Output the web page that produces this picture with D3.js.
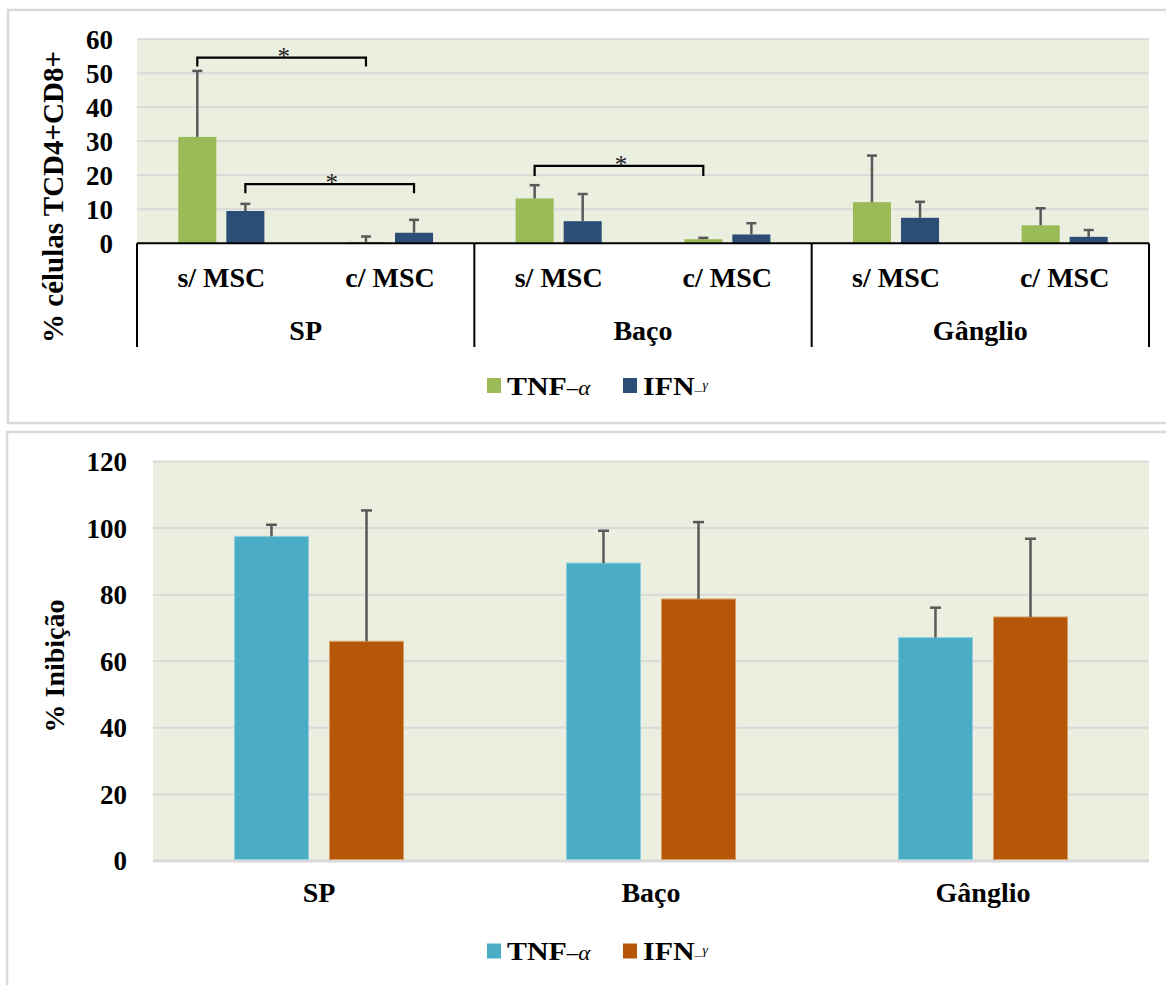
<!DOCTYPE html>
<html>
<head>
<meta charset="utf-8">
<script src="https://cdn.jsdelivr.net/npm/d3@7"></script>
<style>
  body { margin: 0; background: #fff; }
  svg { display: block; }
  text { font-family: "Liberation Serif", "Times New Roman", serif; }
</style>
</head>
<body>
<svg id="chart" width="1166" height="985"></svg>
<script>
// ---- data ----
const groups = ["SP", "Baço", "Gânglio"];
const conditions = ["s/ MSC", "c/ MSC"];
const seriesNames = ["TNF", "IFN"];

// top chart: % células TCD4+CD8+ (order: SP s/, SP c/, Baço s/, Baço c/, Gânglio s/, Gânglio c/)
const tnfCells = [31.3, 0.4, 13.2, 1.2, 12.1, 5.3];
const tnfCellsErr = [19.4, 1.6, 3.9, 0.4, 13.7, 5.0];
const ifnCells = [9.5, 3.1, 6.5, 2.6, 7.5, 1.9];
const ifnCellsErr = [2.1, 3.8, 8.0, 3.3, 4.7, 2.0];
const cellTicks = [0, 10, 20, 30, 40, 50, 60];

// significance brackets (from / to sub-category index, series, bracket level, leg end)
const brackets = [
  { from: 0, to: 1, series: "TNF", level: 54.6, leg: 52.0 },
  { from: 0, to: 1, series: "IFN", level: 17.4, leg: 14.7 },
  { from: 2, to: 3, series: "TNF", level: 22.8, leg: 19.8 }
];

// bottom chart: % Inibição
const tnfInib = [97.5, 89.5, 67.1];
const tnfInibErr = [3.5, 9.7, 9.0];
const ifnInib = [66.0, 78.7, 73.3];
const ifnInibErr = [39.3, 23.1, 23.5];
const inibTicks = [0, 20, 40, 60, 80, 100, 120];

const svg = d3.select("#chart");

// panel frames
svg.append("rect").attr("x", 8).attr("y", 10).attr("width", 1175).attr("height", 413)
  .attr("fill", "#fff").attr("stroke", "#d9d9d9").attr("stroke-width", 2.5);
svg.append("rect").attr("x", 7).attr("y", 432).attr("width", 1175).attr("height", 570)
  .attr("fill", "#fff").attr("stroke", "#d9d9d9").attr("stroke-width", 2.5);

const bgColor = "#ebefdf";
const gridColor = "#d9d9d9";
const errColor = "#595959";

// ================= TOP CHART =================
const topBox = { left: 137, right: 1149, top: 39.3, bottom: 243.3 };

const subKeys = [];
groups.forEach(g => conditions.forEach(c => subKeys.push(g + "|" + c)));

const xGroupTop = d3.scaleBand().domain(groups).range([topBox.left, topBox.right]);
const xSubTop = d3.scaleBand().domain(subKeys).range([topBox.left, topBox.right]);
const xSerTop = d3.scaleBand().domain(seriesNames).range([0, xSubTop.bandwidth()])
  .paddingInner(0.2083).paddingOuter(0.859);
const yTop = d3.scaleLinear().domain([0, 60]).range([topBox.bottom, topBox.top]);

const topColors = { TNF: "#9bbb59", IFN: "#2c4d75" };

const gTop = svg.append("g");
gTop.append("rect").attr("x", topBox.left).attr("y", topBox.top)
  .attr("width", topBox.right - topBox.left).attr("height", topBox.bottom - topBox.top)
  .attr("fill", bgColor);

gTop.selectAll("line.grid").data(cellTicks.filter(d => d > 0)).enter().append("line")
  .attr("x1", topBox.left).attr("x2", topBox.right)
  .attr("y1", d => yTop(d)).attr("y2", d => yTop(d))
  .attr("stroke", gridColor).attr("stroke-width", 2);

const topData = [];
subKeys.forEach((k, i) => {
  topData.push({ key: k, s: "TNF", v: tnfCells[i], e: tnfCellsErr[i] });
  topData.push({ key: k, s: "IFN", v: ifnCells[i], e: ifnCellsErr[i] });
});

const topBars = gTop.selectAll("g.bar").data(topData).enter().append("g");
topBars.append("rect")
  .attr("x", d => xSubTop(d.key) + xSerTop(d.s))
  .attr("y", d => yTop(d.v))
  .attr("width", xSerTop.bandwidth())
  .attr("height", d => yTop(0) - yTop(d.v))
  .attr("fill", d => topColors[d.s]);
const cx = d => xSubTop(d.key) + xSerTop(d.s) + xSerTop.bandwidth() / 2;
topBars.append("line")
  .attr("x1", cx).attr("x2", cx)
  .attr("y1", d => yTop(d.v)).attr("y2", d => yTop(d.v + d.e))
  .attr("stroke", errColor).attr("stroke-width", 2.5);
topBars.append("line")
  .attr("x1", d => cx(d) - 5).attr("x2", d => cx(d) + 5)
  .attr("y1", d => yTop(d.v + d.e)).attr("y2", d => yTop(d.v + d.e))
  .attr("stroke", errColor).attr("stroke-width", 2.5);

// y tick labels
gTop.selectAll("text.ytick").data(cellTicks).enter().append("text")
  .attr("x", 113).attr("y", d => yTop(d)).attr("dy", "0.35em")
  .attr("text-anchor", "end").attr("font-size", 27).attr("font-weight", "bold")
  .text(d => d);

// multi-level category axis
gTop.append("line").attr("x1", topBox.left).attr("x2", topBox.right)
  .attr("y1", topBox.bottom).attr("y2", topBox.bottom)
  .attr("stroke", "#000").attr("stroke-width", 2);
const sepX = groups.map(g => xGroupTop(g)).concat([xGroupTop(groups[groups.length - 1]) + xGroupTop.bandwidth()]);
gTop.selectAll("line.sep").data(sepX).enter().append("line")
  .attr("x1", d => d).attr("x2", d => d)
  .attr("y1", topBox.bottom).attr("y2", 347)
  .attr("stroke", "#000").attr("stroke-width", 2);
gTop.selectAll("text.sub").data(subKeys).enter().append("text")
  .attr("x", d => xSubTop(d) + xSubTop.bandwidth() / 2).attr("y", 287)
  .attr("text-anchor", "middle").attr("font-size", 28).attr("font-weight", "bold")
  .text(d => d.split("|")[1]);
gTop.selectAll("text.grp").data(groups).enter().append("text")
  .attr("x", d => xGroupTop(d) + xGroupTop.bandwidth() / 2).attr("y", 340)
  .attr("text-anchor", "middle").attr("font-size", 28).attr("font-weight", "bold")
  .text(d => d);

// y axis title
gTop.append("text")
  .attr("transform", "translate(63,197) rotate(-90)")
  .attr("text-anchor", "middle").attr("font-size", 29).attr("font-weight", "bold")
  .text("% células TCD4+CD8+");

// brackets
brackets.forEach(b => {
  const k1 = subKeys[b.from], k2 = subKeys[b.to];
  const x1 = xSubTop(k1) + xSerTop(b.series) + xSerTop.bandwidth() / 2;
  const x2 = xSubTop(k2) + xSerTop(b.series) + xSerTop.bandwidth() / 2;
  const path = d3.path();
  path.moveTo(x1, yTop(b.leg));
  path.lineTo(x1, yTop(b.level));
  path.lineTo(x2, yTop(b.level));
  path.lineTo(x2, yTop(b.leg));
  gTop.append("path").attr("d", path.toString())
    .attr("fill", "none").attr("stroke", "#000").attr("stroke-width", 2.2);
  gTop.append("text").attr("x", (x1 + x2) / 2 + 2).attr("y", yTop(b.level) + 7)
    .attr("text-anchor", "middle").attr("font-size", 25).attr("fill", "#222")
    .text("*");
});

// legend helper
function legend(g, y, colors) {
  const items = [
    { s: "TNF", x: 487, label: "TNF", suffix: "–α" },
    { s: "IFN", x: 623, label: "IFN", suffix: "γ" }
  ];
  items.forEach(it => {
    g.append("rect").attr("x", it.x).attr("y", y - 7.5).attr("width", 14).attr("height", 15)
      .attr("fill", colors[it.s]);
    const t = g.append("text")
      .attr("transform", "translate(" + (it.x + 20) + "," + (y + 9) + ") scale(1.15,1)")
      .attr("font-size", 26).attr("font-weight", "bold");
    t.append("tspan").text(it.label);
    if (it.s === "TNF") {
      t.append("tspan").attr("font-size", 20).attr("font-weight", "normal")
        .attr("font-style", "italic").text(it.suffix);
    } else {
      t.append("tspan").attr("font-size", 14).attr("font-weight", "normal").text("–");
      t.append("tspan").attr("font-size", 12).attr("font-weight", "normal")
        .attr("font-style", "italic").attr("dy", -6).text(it.suffix);
    }
  });
}
legend(gTop, 385.5, topColors);

// ================= BOTTOM CHART =================
const botBox = { left: 153, right: 1149, top: 461.5, bottom: 861 };
const xGroupBot = d3.scaleBand().domain(groups).range([botBox.left, botBox.right]);
const xSerBot = d3.scaleBand().domain(seriesNames).range([0, xGroupBot.bandwidth()])
  .paddingInner(0.21).paddingOuter(0.852);
const yBot = d3.scaleLinear().domain([0, 120]).range([botBox.bottom, botBox.top]);
const botColors = { TNF: "#4bacc6", IFN: "#b65708" };
const botStroke = { TNF: "#8fcfe0", IFN: "#d9a06a" };

const gBot = svg.append("g");
gBot.append("rect").attr("x", botBox.left).attr("y", botBox.top)
  .attr("width", botBox.right - botBox.left).attr("height", botBox.bottom - botBox.top)
  .attr("fill", bgColor);
gBot.selectAll("line.grid").data(inibTicks).enter().append("line")
  .attr("x1", botBox.left).attr("x2", botBox.right)
  .attr("y1", d => yBot(d)).attr("y2", d => yBot(d))
  .attr("stroke", gridColor).attr("stroke-width", d => d === 0 ? 3 : 2);

const botData = [];
groups.forEach((g, i) => {
  botData.push({ g: g, s: "TNF", v: tnfInib[i], e: tnfInibErr[i] });
  botData.push({ g: g, s: "IFN", v: ifnInib[i], e: ifnInibErr[i] });
});
const bcx = d => xGroupBot(d.g) + xSerBot(d.s) + xSerBot.bandwidth() / 2;
const botBars = gBot.selectAll("g.bar").data(botData).enter().append("g");
botBars.append("rect")
  .attr("x", d => xGroupBot(d.g) + xSerBot(d.s) + 0.5)
  .attr("y", d => yBot(d.v))
  .attr("width", xSerBot.bandwidth() - 1)
  .attr("height", d => yBot(0) - yBot(d.v) - 1.5)
  .attr("fill", d => botColors[d.s])
  .attr("stroke", d => botStroke[d.s]).attr("stroke-width", 1);
botBars.append("line")
  .attr("x1", bcx).attr("x2", bcx)
  .attr("y1", d => yBot(d.v)).attr("y2", d => yBot(d.v + d.e))
  .attr("stroke", errColor).attr("stroke-width", 2.5);
botBars.append("line")
  .attr("x1", d => bcx(d) - 5.5).attr("x2", d => bcx(d) + 5.5)
  .attr("y1", d => yBot(d.v + d.e)).attr("y2", d => yBot(d.v + d.e))
  .attr("stroke", errColor).attr("stroke-width", 2.5);

gBot.selectAll("text.ytick").data(inibTicks).enter().append("text")
  .attr("x", 127).attr("y", d => yBot(d)).attr("dy", "0.35em")
  .attr("text-anchor", "end").attr("font-size", 27).attr("font-weight", "bold")
  .text(d => d);

gBot.selectAll("text.xl").data(groups).enter().append("text")
  .attr("x", d => xGroupBot(d) + xGroupBot.bandwidth() / 2).attr("y", 902)
  .attr("text-anchor", "middle").attr("font-size", 28).attr("font-weight", "bold")
  .text(d => d);

gBot.append("text")
  .attr("transform", "translate(64,666) rotate(-90)")
  .attr("text-anchor", "middle").attr("font-size", 28).attr("font-weight", "bold")
  .text("% Inibição");

legend(gBot, 951, botColors);
</script>
</body>
</html>
